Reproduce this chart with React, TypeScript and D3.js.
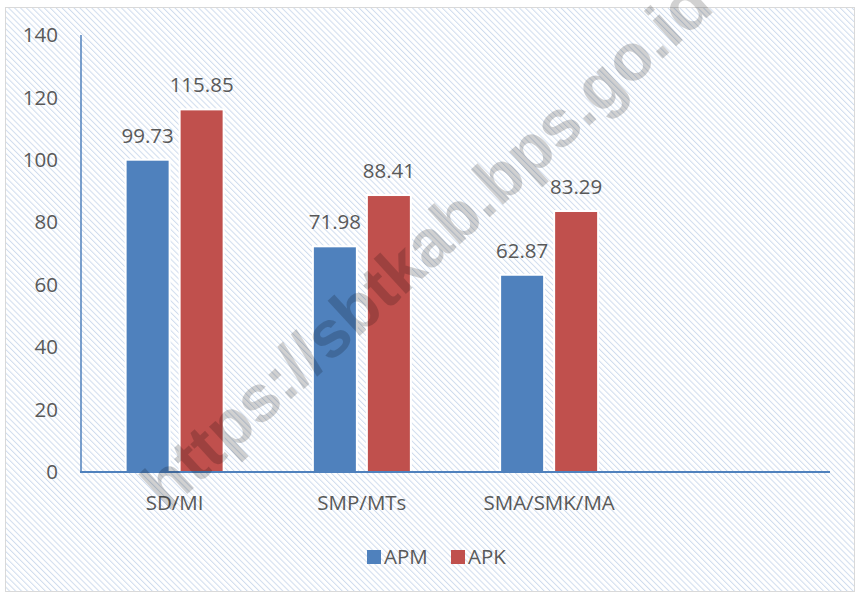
import React from "react";
import * as d3 from "d3";

const categories = ["SD/MI", "SMP/MTs", "SMA/SMK/MA", ""];
const seriesNames = ["APM", "APK"];
const apmValues = [99.73, 71.98, 62.87, null];
const apkValues = [115.85, 88.41, 83.29, null];
const yTicks = [0, 20, 40, 60, 80, 100, 120, 140];
const colors = ["#4f81bd", "#c0504d"];
const watermark = "https://sbtkab.bps.go.id";

const W = 859;
const H = 593;
const FONT = "'Open Sans', 'Liberation Sans', sans-serif";
const TXT = "#595959";

export default function App() {
  const x0 = d3.scaleBand<string>().domain(categories).range([81, 830]);
  const y = d3.scaleLinear().domain([0, 140]).range([472, 35]);
  const barW = 42;
  const gap = 12;
  const series = [apmValues, apkValues];

  return (
    <svg
      width={W}
      height={H}
      style={{ position: "absolute", left: 0, top: 0, background: "#fff" }}
    >
      <defs>
        <pattern
          id="hatch"
          width="4.2"
          height="4.2"
          patternUnits="userSpaceOnUse"
          patternTransform="rotate(-45)"
        >
          <rect width="4.2" height="4.2" fill="#ffffff" />
          <line x1="0" y1="0" x2="0" y2="4.2" stroke="#cfdcee" strokeWidth="2" />
        </pattern>
      </defs>
      <rect x={5.5} y={7.5} width={849} height={584} fill="url(#hatch)" stroke="#d9d9d9" strokeWidth={1} />

      {/* y tick labels */}
      {yTicks.map((t) => (
        <text
          key={t}
          x={58}
          y={y(t)}
          dy="0.35em"
          textAnchor="end"
          fontFamily={FONT}
          fontSize={20.5}
          fill={TXT}
        >
          {t}
        </text>
      ))}

      {/* bars */}
      {categories.map((c, ci) => {
        const cx = (x0(c) as number) + x0.bandwidth() / 2;
        return series.map((vals, si) => {
          const v = vals[ci];
          if (v == null) return null;
          const bx = si === 0 ? cx - gap / 2 - barW : cx + gap / 2;
          const top = y(v);
          return (
            <g key={`${ci}-${si}`}>
              <rect x={bx - 2} y={top - 2} width={barW + 4} height={y(0) - top + 2} fill="#fff" />
              <rect x={bx} y={top} width={barW} height={y(0) - top} fill={colors[si]} />
              <text
                x={bx + barW / 2}
                y={top - 18}
                textAnchor="middle"
                fontFamily={FONT}
                fontSize={20.5}
                fill={TXT}
              >
                {v.toFixed(2)}
              </text>
            </g>
          );
        });
      })}

      {/* axes */}
      <line x1={81} y1={35} x2={81} y2={472} stroke="#4f81bd" strokeWidth={1.5} />
      <line x1={80} y1={472} x2={830} y2={472} stroke="#4f81bd" strokeWidth={2} />

      {/* category labels */}
      {categories.map((c) => (
        <text
          key={c + "lbl"}
          x={(x0(c) as number) + x0.bandwidth() / 2}
          y={510}
          textAnchor="middle"
          fontFamily={FONT}
          fontSize={20.5}
          fill={TXT}
        >
          {c}
        </text>
      ))}

      {/* legend */}
      {seriesNames.map((s, i) => {
        const lx = 367 + i * 84;
        return (
          <g key={s}>
            <rect x={lx} y={550} width={14} height={14} fill={colors[i]} />
            <text x={lx + 17} y={557} dy="0.35em" fontFamily={FONT} fontSize={20.5} fill={TXT}>
              {s}
            </text>
          </g>
        );
      })}

      {/* watermark */}
      <text
        transform="translate(426,244) rotate(-42.5)"
        textAnchor="middle"
        dy="0.35em"
        fontFamily="'Liberation Sans', Arial, sans-serif"
        fontWeight="bold"
        fontSize={66}
        fill="#000"
        fillOpacity={0.18}
      >
        {watermark}
      </text>
    </svg>
  );
}
